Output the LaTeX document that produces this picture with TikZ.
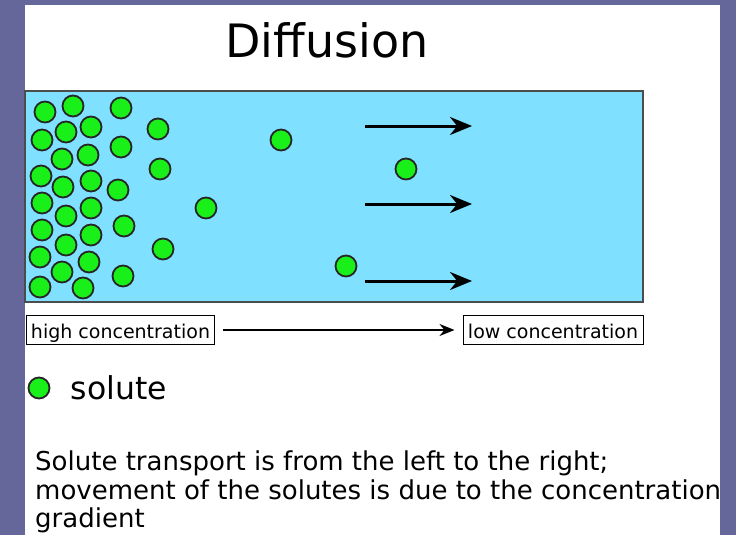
\documentclass[tikz,border=0pt]{standalone}
\usepackage{fontspec}
\setmainfont{DejaVu Sans}
\usetikzlibrary{arrows.meta,positioning}
\definecolor{slidebg}{RGB}{101,102,154}
\definecolor{water}{RGB}{128,224,255}
\definecolor{solutegreen}{RGB}{25,240,25}

\begin{document}
\begin{tikzpicture}[x=1pt, y=-1pt,
    solute/.style={circle, draw=black!85, line width=1.8pt, fill=solutegreen, minimum size=21pt, inner sep=0pt},
    flow/.style={-{Stealth[length=22pt,width=18pt]}, line width=3pt},
    concbox/.style={draw, line width=1pt, inner sep=0pt, minimum height=29pt, text height=18pt, text depth=2pt, font=\fontsize{19}{22}\selectfont},
    gradarrow/.style={-{Stealth[length=15pt,width=12pt]}, line width=1.8pt},
    textline/.style={anchor=base west, inner sep=0pt, font=\fontsize{26}{29}\selectfont}
]
\useasboundingbox[fill=slidebg] (0,0) rectangle (736,535);
\fill[white] (25,5) rectangle (720,535);

% Title
\node[font=\fontsize{46}{50}\selectfont] (title) at (327,40) {Diffusion};

% Water
\draw[fill=water, line width=1.2pt, draw=black!70] (25,91) rectangle (643,302);

% Solutes
\foreach \x/\y [count=\i] in {45/112, 73/106, 121/108, 42/140, 66/132, 91/127, 158/129,
    62/159, 88/155, 121/147, 160/169, 41/176, 63/187, 91/181, 118/190, 42/203,
    66/216, 91/208, 206/208, 42/230, 124/226, 66/245, 91/235, 163/249, 40/257,
    62/272, 89/262, 123/276, 40/287, 83/288, 281/140, 406/169, 346/266}
    \node[solute] (s\i) at (\x,\y) {};

% Flow arrows
\foreach \y [count=\i] in {126, 204, 281} {
    \coordinate (fa\i) at (365,\y);
    \coordinate (fb\i) at (472,\y);
    \draw[flow] (fa\i) -- (fb\i);
}

% Gradient
\node[concbox, minimum width=188pt] (high) at (120.5,330) {high concentration};
\node[concbox, minimum width=180pt] (low) at (553,330) {low concentration};
\draw[gradarrow, shorten <=8pt, shorten >=8pt] (high) -- (low);

% Key
\node[solute] (key) at (39,388) {};
\node[right=20pt of key, inner sep=0pt, font=\fontsize{31.5}{34}\selectfont] (keylabel) {solute};

% Note
\node[textline] (line1) at (35,470) {Solute transport is from the left to the right;};
\node[textline] (line2) at (35,499) {movement of the solutes is due to the concentration};
\node[textline] (line3) at (35,527) {gradient};

\fill[slidebg] (720,0) rectangle (736,535);
\end{tikzpicture}
\end{document}
